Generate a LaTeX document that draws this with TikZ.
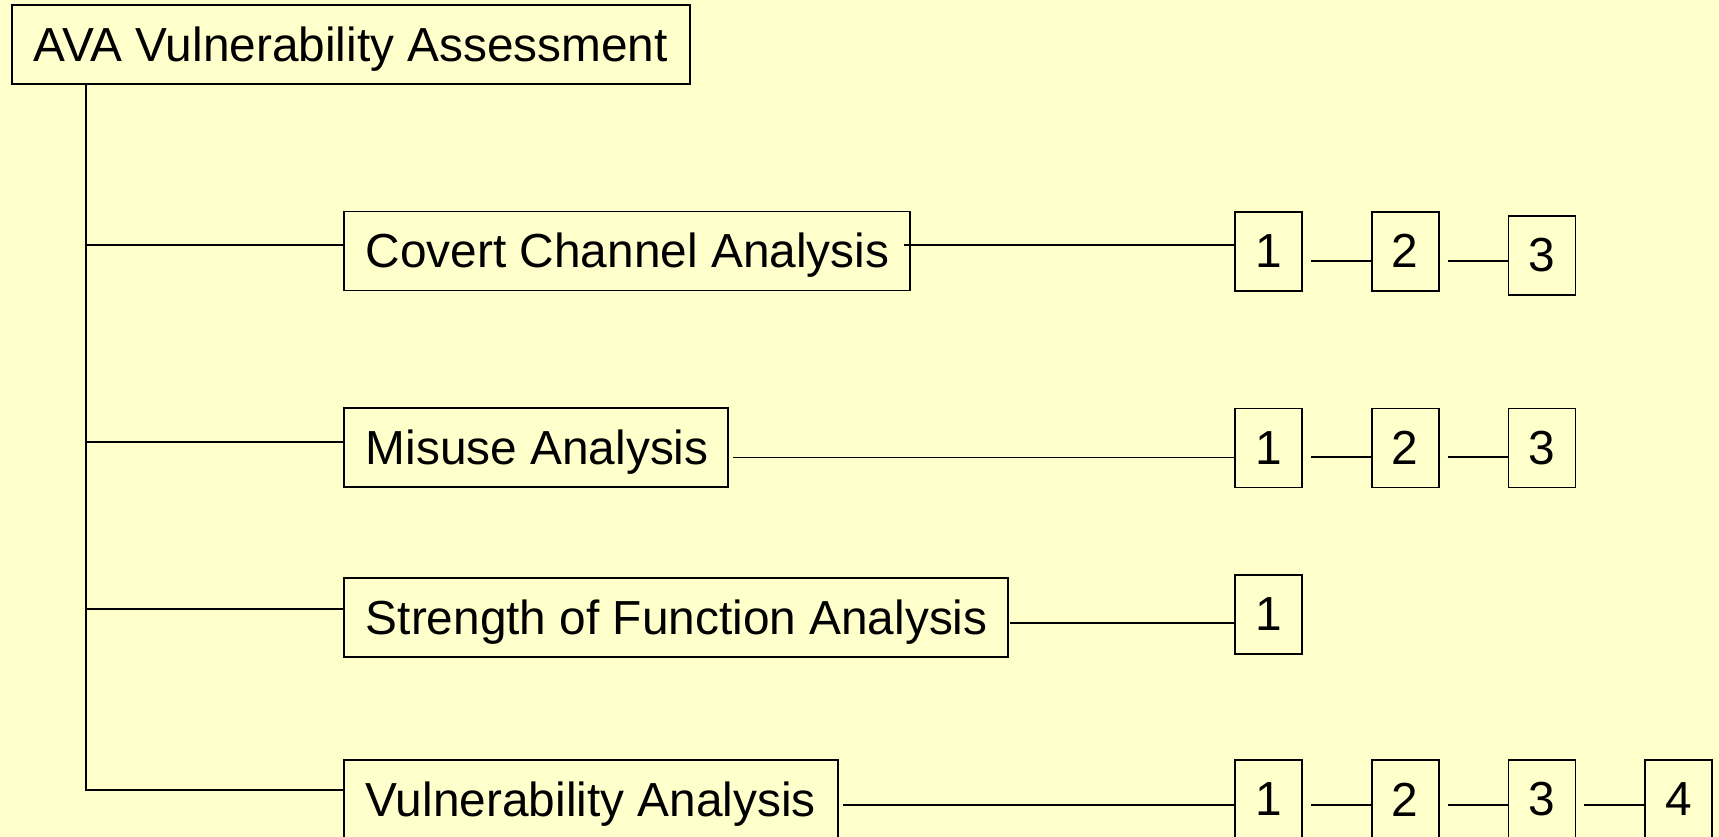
\documentclass[tikz,border=0pt]{standalone}
\usepackage{fontspec}
\setmainfont{Liberation Sans}
\usetikzlibrary{positioning}
\definecolor{paper}{RGB}{255,255,204}
\tikzset{
  box/.style={draw, line width=0.5pt, anchor=west, minimum height=0.79cm, inner xsep=0.22cm, inner ysep=0pt, text height=0.44cm, text depth=0.1cm},
  top/.style={box, anchor=north west},
  num/.style={draw, line width=0.5pt, minimum width=0.67cm, minimum height=0.79cm, inner sep=0pt},
  wire/.style={line width=0.5pt}
}
\newcommand\lbl[2]{\makebox[#1][l]{#2}}
\newcommand\link[4]{\draw[wire] ([xshift=#3cm,yshift=#4cm]#1.east) -- ([yshift=#4cm]#1.east -| #2.west);}

\begin{document}
\begin{tikzpicture}[font=\fontsize{13.6pt}{16pt}\selectfont, node distance=0.68cm]
\useasboundingbox (0,0) rectangle (17.19,-8.37);
\fill[paper] (0,0) rectangle (17.19,-8.37);

\node[top] (root) at (0.11,-0.04) {AVA Vulnerability Assessment};
\node[box] (cov) at (3.43,-2.51) {\lbl{5.22cm}{Covert Channel Analysis}};
\node[box] (mis) at (3.43,-4.475) {\lbl{3.40cm}{Misuse Analysis}};
\node[box] (str) at (3.43,-6.175) {\lbl{6.20cm}{Strength of Function Analysis}};
\node[box] (vul) at (3.43,-7.995) {\lbl{4.50cm}{Vulnerability Analysis}};

\node[num] (c1) at (12.685,-2.512) {1}; \node[num, right=of c1] (c2) {2}; \node[num, right=of c2, yshift=-0.04cm] (c3) {3};
\node[num] (m1) at (12.685,-4.48) {1}; \node[num, right=of m1] (m2) {2}; \node[num, right=of m2] (m3) {3};
\node[num] (s1) at (12.685,-6.145) {1};
\node[num] (v1) at (12.685,-7.995) {1}; \node[num, right=of v1] (v2) {2}; \node[num, right=of v2] (v3) {3}; \node[num, right=of v3] (v4) {4};

% tree
\coordinate (trunk) at ([xshift=0.75cm]root.south west);
\draw[wire] (trunk) |- ([yshift=0.095cm]vul.west);
\foreach \n/\d in {cov/0.06, mis/0.058, str/0.082}
  \draw[wire] ([yshift=\d cm]\n.west -| trunk) -- ([yshift=\d cm]\n.west);

% rows
\link{cov}{c1}{-0.07}{0.06} \link{c1}{c2}{0.08}{-0.1} \link{c2}{c3}{0.08}{-0.1}
\link{mis}{m1}{0.04}{-0.1} \link{m1}{m2}{0.08}{-0.093} \link{m2}{m3}{0.08}{-0.093}
\link{str}{s1}{0.01}{-0.052}
\link{vul}{v1}{0.045}{-0.055} \link{v1}{v2}{0.08}{-0.055} \link{v2}{v3}{0.08}{-0.055} \link{v3}{v4}{0.08}{-0.055}
\end{tikzpicture}
\end{document}
